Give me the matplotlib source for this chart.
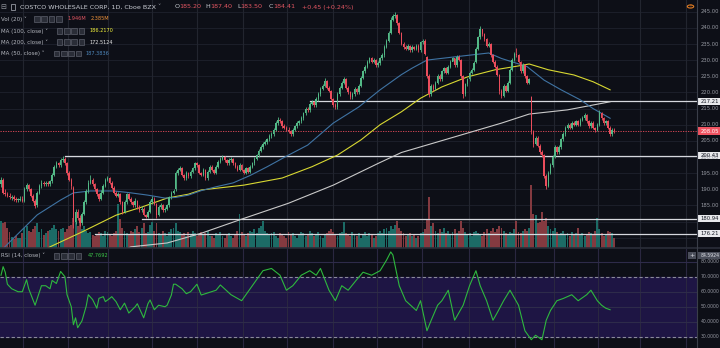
import numpy as np
import matplotlib.pyplot as plt
from matplotlib.patches import Rectangle, Circle

W, H = 720, 348

# ---- daily candles (price) ----
close = [193.0, 189.0, 188.5, 188.0, 187.5, 187.5, 187.0, 186.8, 186.7, 187.0,
         186.5, 190.0, 191.4, 190.0, 188.0, 186.5, 184.8, 189.0, 191.0, 192.0,
         191.5, 192.0, 191.5, 192.5, 194.5, 197.0, 198.0, 197.5, 199.0, 199.5,
         198.0, 195.0, 193.0, 191.0, 180.0, 183.0, 181.0, 179.5, 182.5, 186.0,
         189.5, 192.0, 193.0, 191.5, 190.0, 188.5, 187.0, 189.0, 191.0, 193.0,
         193.5, 192.0, 190.5, 189.0, 188.0, 188.5, 186.0, 183.0, 186.0, 188.5,
         187.0, 186.0, 185.0, 186.5, 184.5, 183.5, 184.0, 182.0, 181.5, 183.0,
         186.0, 187.0, 185.5, 182.0, 184.5, 185.0, 183.5, 184.0, 185.0, 187.5,
         189.0, 189.5, 195.0, 196.0, 196.5, 194.5, 193.5, 195.0, 194.0, 195.5,
         196.5, 198.0, 197.5, 195.0, 194.5, 196.0, 193.5, 195.5, 197.0, 196.0,
         195.0, 197.0, 198.5, 199.5, 200.0, 199.0, 198.0, 199.0, 199.5, 198.0,
         197.0, 196.0, 197.5, 196.0, 195.0, 196.5, 195.5, 197.0, 198.0, 199.5,
         200.5, 202.0, 203.0, 204.0, 204.5, 205.5, 206.5, 207.0, 208.5, 210.5,
         211.5, 211.0, 209.5, 209.0, 208.5, 208.0, 207.0, 208.5, 209.5, 210.5,
         211.0, 212.0, 213.5, 215.0, 214.5, 216.5, 217.0, 216.0, 218.0, 219.5,
         221.0, 222.0, 223.5, 221.5, 220.5, 218.0, 216.0, 215.5, 219.5, 221.5,
         223.0, 224.0, 221.5, 220.0, 218.5, 219.5, 221.0, 220.0, 222.0, 224.5,
         226.5, 228.0, 229.5, 230.5, 229.5, 230.0, 228.5, 229.0, 230.5, 231.5,
         234.0, 236.0, 238.5, 242.5, 243.5, 244.0, 241.5, 238.5, 235.0, 234.0,
         233.5, 234.5, 233.0, 234.0, 233.5, 234.5, 233.0, 235.5, 236.0, 232.0,
         225.0, 219.5, 222.0, 221.0, 223.0, 225.0, 224.0, 226.5, 227.5, 226.0,
         228.0, 229.5, 230.5, 228.5, 231.0, 230.0, 225.0, 219.5, 222.5, 224.0,
         226.0, 227.0, 229.0, 233.5, 237.0, 239.5, 238.0, 236.5, 234.5, 235.0,
         231.5, 229.5, 228.0, 225.5, 220.5, 219.0, 222.0, 220.5, 223.0, 227.0,
         230.0, 232.0, 231.5, 229.5, 226.5, 228.5, 225.0, 223.0, 224.0, 208.0,
         204.0, 206.0, 203.5, 201.5, 200.5, 194.0, 191.0, 195.0, 197.5, 200.0,
         203.0, 201.5, 203.0, 205.5, 207.0, 209.0, 210.0, 209.0, 210.5, 210.0,
         211.0, 210.0, 211.5, 212.0, 213.0, 211.0, 209.5, 210.5, 209.0, 208.5,
         210.0, 213.5, 212.0, 210.5, 211.0, 209.0, 207.0, 208.5, 208.0]

opens = [191.5, 193.0, 189.0, 188.5, 188.0, 187.3, 187.5, 187.0, 186.6, 186.7,
         187.0, 186.5, 190.0, 191.4, 190.0, 188.0, 186.5, 185.0, 189.0, 191.0,
         192.0, 191.5, 192.0, 191.5, 192.5, 194.5, 197.0, 198.0, 197.5, 199.0,
         199.5, 198.0, 195.0, 193.0, 190.5, 180.0, 183.0, 181.0, 179.5, 182.5,
         186.0, 189.5, 192.0, 193.0, 191.5, 190.0, 188.5, 187.0, 189.0, 191.0,
         193.0, 193.5, 192.0, 190.5, 189.0, 188.0, 188.5, 186.0, 183.0, 186.0,
         188.5, 187.0, 186.0, 185.0, 186.5, 184.5, 183.5, 184.0, 182.0, 181.5,
         183.0, 186.0, 187.0, 185.5, 182.0, 184.5, 185.0, 183.5, 184.0, 185.0,
         187.5, 189.0, 190.0, 195.0, 196.0, 196.5, 194.5, 193.5, 195.0, 194.0,
         195.5, 196.5, 198.0, 197.5, 195.0, 194.5, 196.0, 193.5, 195.5, 197.0,
         196.0, 195.0, 197.0, 198.5, 199.5, 200.0, 199.0, 198.0, 199.0, 199.5,
         198.0, 197.0, 196.0, 197.5, 196.0, 195.0, 196.5, 195.5, 197.0, 198.0,
         199.5, 200.5, 202.0, 203.0, 204.0, 204.5, 205.5, 206.5, 207.0, 208.5,
         210.5, 211.5, 211.0, 209.5, 209.0, 208.5, 208.0, 207.0, 208.5, 209.5,
         210.5, 211.0, 212.0, 213.5, 215.0, 214.5, 216.5, 217.0, 216.0, 218.0,
         219.5, 221.0, 222.0, 223.5, 221.5, 220.5, 218.0, 216.0, 215.5, 219.5,
         221.5, 223.0, 224.0, 221.5, 220.0, 218.5, 219.5, 221.0, 220.0, 222.0,
         224.5, 226.5, 228.0, 229.5, 230.5, 229.5, 230.0, 228.5, 229.0, 230.5,
         231.5, 234.0, 236.0, 238.5, 242.5, 243.5, 244.0, 241.5, 238.5, 235.0,
         234.0, 233.5, 234.5, 233.0, 234.0, 233.5, 234.5, 233.0, 235.5, 236.0,
         231.0, 225.0, 219.5, 222.0, 221.0, 223.0, 225.0, 224.0, 226.5, 227.5,
         226.0, 228.0, 229.5, 230.5, 228.5, 231.0, 230.0, 225.0, 219.5, 222.5,
         224.0, 226.0, 227.0, 229.5, 233.5, 237.0, 239.5, 238.0, 236.5, 234.5,
         235.0, 231.5, 229.5, 228.0, 225.5, 220.5, 219.0, 222.0, 220.5, 223.0,
         227.0, 230.0, 232.0, 231.5, 229.5, 226.5, 228.5, 225.0, 223.0, 218.5,
         208.0, 204.0, 206.0, 203.5, 201.5, 200.5, 194.0, 191.0, 195.0, 197.5,
         200.0, 203.0, 201.5, 203.0, 205.5, 207.0, 209.0, 210.0, 209.0, 210.5,
         210.0, 211.0, 210.0, 211.5, 212.0, 213.0, 211.0, 209.5, 210.5, 209.0,
         208.5, 210.0, 213.5, 212.0, 210.5, 211.0, 209.0, 207.0, 208.5]

high = [193.8, 193.5, 190.0, 189.3, 188.8, 188.3, 188.2, 187.6, 187.4, 187.8,
        187.8, 190.6, 192.0, 191.8, 190.5, 188.6, 187.0, 189.5, 191.6, 192.8,
        192.6, 192.7, 192.6, 193.0, 195.0, 197.6, 198.8, 198.6, 199.6, 200.2,
        199.9, 198.5, 195.8, 193.5, 191.0, 183.8, 184.0, 182.0, 183.0, 186.8,
        190.0, 192.8, 194.4, 193.5, 192.0, 190.5, 189.0, 189.8, 191.6, 193.5,
        194.2, 193.8, 192.5, 191.0, 189.6, 189.2, 189.0, 186.5, 186.8, 189.0,
        189.0, 187.6, 186.5, 187.2, 186.8, 185.0, 184.8, 184.5, 182.5, 183.6,
        186.6, 187.8, 187.5, 185.8, 185.0, 185.7, 185.4, 184.6, 185.6, 188.0,
        189.6, 190.2, 195.6, 196.6, 197.2, 196.8, 194.8, 195.6, 195.3, 196.0,
        197.0, 198.6, 198.5, 197.8, 195.5, 196.6, 196.3, 196.0, 197.6, 197.5,
        196.4, 197.6, 199.0, 200.0, 200.6, 200.3, 199.4, 199.6, 200.0, 199.8,
        198.5, 197.4, 198.0, 197.8, 196.4, 197.0, 196.8, 197.5, 198.6, 200.0,
        201.0, 202.6, 203.6, 204.5, 205.2, 206.0, 207.0, 207.6, 209.0, 211.2,
        212.4, 212.0, 211.4, 210.2, 209.6, 209.2, 208.4, 209.0, 210.0, 211.0,
        211.6, 212.6, 214.0, 215.6, 215.6, 217.0, 217.8, 217.4, 218.6, 220.2,
        221.6, 222.6, 224.4, 223.8, 222.0, 220.8, 218.4, 216.8, 220.0, 222.0,
        223.6, 224.8, 224.4, 222.0, 220.4, 220.0, 221.6, 221.4, 222.6, 225.0,
        227.0, 228.6, 230.0, 231.0, 231.0, 230.6, 230.4, 229.6, 231.0, 232.2,
        234.6, 236.6, 239.0, 243.2, 244.2, 245.0, 244.4, 241.8, 238.8, 235.6,
        234.6, 235.0, 234.8, 234.6, 234.5, 235.0, 235.0, 236.0, 236.6, 236.4,
        231.4, 225.6, 222.6, 222.6, 223.6, 225.6, 225.6, 227.0, 228.0, 227.8,
        228.6, 230.0, 231.0, 230.8, 231.6, 231.6, 230.4, 225.4, 223.0, 224.6,
        226.6, 227.6, 229.6, 234.0, 237.6, 240.6, 239.6, 238.4, 236.8, 235.6,
        235.4, 232.0, 230.0, 228.6, 225.8, 221.0, 222.6, 222.4, 223.6, 227.6,
        230.6, 232.6, 233.8, 231.8, 229.8, 229.0, 228.8, 225.4, 224.6, 218.8,
        208.4, 206.6, 206.4, 204.0, 202.2, 201.0, 194.6, 195.6, 198.0, 200.6,
        203.6, 203.4, 203.6, 206.0, 207.6, 209.6, 210.6, 210.4, 211.0, 211.0,
        211.6, 211.4, 212.0, 212.6, 213.6, 213.4, 211.5, 211.0, 211.0, 209.4,
        210.6, 214.5, 213.8, 212.4, 211.6, 211.4, 209.6, 209.0, 209.0]

low = [190.8, 188.6, 188.0, 187.6, 187.0, 186.8, 186.5, 186.2, 186.2, 186.3,
       186.0, 186.2, 189.6, 189.5, 187.6, 186.0, 184.2, 184.6, 188.5, 190.5,
       191.0, 191.0, 191.0, 191.0, 192.0, 194.2, 196.5, 197.0, 197.0, 198.6,
       197.5, 194.5, 192.5, 190.2, 178.0, 179.2, 180.4, 178.6, 179.0, 182.0,
       185.5, 189.0, 191.5, 191.0, 189.6, 188.0, 186.4, 186.6, 188.6, 190.6,
       192.6, 191.6, 190.0, 188.6, 187.6, 187.6, 185.6, 182.4, 182.6, 185.6,
       186.6, 185.6, 184.4, 184.6, 184.0, 183.0, 183.0, 181.6, 181.0, 181.0,
       182.6, 185.6, 185.0, 181.0, 181.6, 184.0, 183.0, 183.0, 183.6, 184.6,
       187.0, 188.6, 189.6, 194.5, 195.6, 194.0, 193.0, 193.0, 193.6, 193.6,
       195.0, 196.0, 197.0, 194.6, 194.0, 194.0, 193.0, 193.0, 195.0, 195.6,
       194.6, 194.6, 196.6, 198.0, 199.0, 198.6, 197.6, 197.6, 198.6, 197.6,
       196.6, 195.6, 195.6, 195.6, 194.6, 194.6, 195.0, 195.0, 196.6, 197.6,
       199.0, 200.0, 201.6, 202.6, 203.6, 204.0, 205.0, 206.0, 206.6, 208.0,
       210.0, 210.4, 209.0, 208.6, 208.0, 207.4, 206.4, 206.6, 208.0, 209.0,
       210.0, 210.6, 211.6, 213.0, 213.8, 214.0, 216.0, 215.4, 215.6, 217.4,
       219.0, 220.6, 221.6, 221.0, 220.0, 217.6, 215.4, 215.0, 215.0, 219.0,
       221.0, 222.6, 221.0, 219.4, 218.0, 218.0, 219.0, 219.6, 219.6, 221.6,
       224.0, 226.0, 227.6, 229.0, 229.0, 229.0, 228.0, 228.0, 228.6, 230.0,
       231.0, 233.6, 235.6, 238.0, 242.0, 243.0, 241.0, 238.0, 234.6, 233.4,
       233.0, 233.0, 232.6, 232.6, 233.0, 233.0, 232.6, 232.6, 235.0, 231.6,
       224.4, 218.6, 219.0, 220.4, 220.6, 222.6, 223.4, 223.6, 226.0, 225.6,
       225.6, 227.6, 229.6, 228.0, 228.0, 229.6, 224.6, 218.2, 219.0, 222.0,
       223.6, 225.6, 226.6, 229.0, 233.0, 236.6, 237.6, 235.8, 234.0, 234.0,
       231.0, 229.0, 227.4, 225.0, 219.6, 218.2, 218.6, 220.0, 220.0, 222.6,
       226.6, 229.6, 231.0, 229.0, 226.0, 226.0, 224.6, 222.6, 222.6, 207.0,
       203.0, 203.6, 203.0, 201.0, 200.0, 193.6, 190.0, 190.6, 194.6, 197.0,
       199.6, 201.0, 201.0, 202.6, 205.0, 206.6, 208.6, 208.6, 208.6, 209.6,
       209.6, 209.6, 209.6, 211.0, 211.6, 210.6, 209.0, 209.0, 208.6, 207.8,
       208.0, 209.6, 211.4, 210.0, 210.0, 208.6, 206.4, 206.4, 207.4]

# volume in millions of shares
volume = [3.8, 3.4, 3.6, 2.8, 2.2, 1.5, 1.2, 1.6, 1.3, 1.4,
          2.0, 2.8, 3.0, 2.4, 2.2, 2.6, 3.0, 3.4, 2.2, 2.6,
          1.8, 2.0, 2.4, 2.5, 2.8, 3.2, 2.6, 2.4, 2.6, 2.8,
          2.2, 2.6, 3.0, 3.2, 4.2, 3.6, 3.0, 4.0,
          2.6, 3.0, 2.4, 2.0, 2.2, 1.8, 1.6, 1.8, 2.2, 2.0, 1.6, 2.4, 2.2, 1.8, 1.6, 2.0,
          2.4, 6.2, 4.0,
          2.8, 2.4, 2.0, 1.8, 2.4, 2.2, 2.6, 3.0, 2.2, 2.8, 3.4, 2.0, 2.2, 3.2,
          3.6, 2.4, 3.4, 2.0, 1.8, 2.4, 2.0, 1.6, 2.2, 2.6, 2.8, 3.4,
          2.4, 2.2, 1.8, 2.0, 1.6, 2.2, 1.8, 2.4, 2.0, 1.6, 1.8, 2.2, 1.8, 2.0, 2.4, 1.6,
          1.6, 1.4, 2.0, 1.8, 2.2, 1.6, 1.4, 1.8, 2.0, 1.6, 1.4, 1.8, 2.4, 4.8,
          2.2, 1.8, 1.6, 2.0, 2.4, 2.2, 2.6, 2.0, 2.8, 3.0, 3.8, 2.4, 2.0,
          1.8, 2.0, 2.2, 1.6, 1.4, 2.0, 1.8, 1.6, 1.4, 2.2, 1.8, 2.0, 1.6, 1.4, 1.8,
          2.2, 2.0, 1.6, 1.8, 2.4, 2.0, 1.6, 1.8, 2.2, 1.6,
          1.4, 1.8, 2.0, 2.4, 2.6, 2.2, 1.8, 1.6, 2.0, 2.2, 3.6, 2.0, 1.8, 1.6, 2.2,
          1.8, 1.6, 2.0, 1.4, 1.8, 2.2, 1.6, 2.0, 1.8, 1.4,
          1.6, 2.0, 2.4, 2.0, 2.6, 2.8, 2.4, 3.0, 2.6, 3.2,
          3.8, 2.8, 2.4, 2.0, 1.6, 1.8, 2.0, 1.6, 1.8, 1.4, 1.6, 2.0, 2.2, 2.6,
          4.0, 7.2, 3.0, 3.4, 2.4, 2.0, 2.6, 2.2, 2.8, 2.0, 2.4, 1.8, 2.2, 2.6, 2.0,
          2.4, 3.8, 2.8,
          2.2, 1.8, 2.0, 1.6, 2.2, 2.4, 2.0, 1.8, 1.6, 2.2,
          2.6, 2.0, 2.4, 2.8, 2.2, 2.6, 3.0, 2.8, 2.4, 2.0,
          1.8, 2.2, 2.0, 2.6, 3.8, 2.2, 2.0, 2.4,
          2.6, 2.4, 2.8, 8.8, 4.8, 4.6, 3.4, 3.6, 5.0, 3.8, 4.2, 3.0, 2.6, 2.4, 2.8,
          2.2, 1.8, 2.0, 2.4, 1.8, 2.0, 1.6, 2.2, 1.8, 2.0,
          2.8, 1.8, 2.0, 1.6, 1.8, 2.2, 2.0, 1.8, 2.4, 4.2,
          2.6, 2.0, 1.6, 1.8, 2.4, 2.2, 2.0, 1.4]

# moving averages, sampled along the drawn lines (bar index, value)
ma50_bar = [0, 5, 17, 28, 34, 42, 53, 60, 69, 77, 82, 88, 94, 101, 109, 117, 125, 135,
            144, 156, 168, 178, 188, 193, 200, 213, 229, 235, 247, 255, 263, 272, 278, 286]
ma50_val = [171.0, 174.3, 182.1, 186.7, 188.9, 189.5, 189.5, 189.0, 188.2, 187.3, 187.5,
            188.2, 189.6, 190.8, 192.0, 194.3, 197.0, 200.6, 203.7, 210.5, 215.5, 220.8,
            225.5, 227.5, 230.0, 231.0, 232.2, 230.5, 228.0, 223.8, 220.8, 217.7, 215.0, 212.0]
ma100_bar = [20, 23, 38, 54, 66, 78, 88, 94, 114, 132, 146, 158, 169, 178, 188, 197, 207,
             219, 232, 243, 248, 257, 269, 278, 286]
ma100_val = [171.0, 172.2, 176.8, 182.0, 184.5, 187.3, 188.5, 189.8, 191.3, 193.5, 197.0,
             200.6, 205.3, 210.0, 214.0, 218.2, 221.7, 224.8, 227.0, 228.2, 228.8, 227.0,
             225.4, 223.3, 220.8]
ma200_bar = [56, 61, 78, 94, 114, 135, 156, 177, 188, 203, 219, 235, 248, 266, 286]
ma200_val = [170.8, 172.2, 173.4, 176.4, 181.0, 185.7, 191.3, 198.0, 201.4, 204.3, 207.4,
             210.5, 213.3, 214.6, 217.1]

# RSI(14), sampled along the line (bar index, value)
rsi_bar = [0, 1, 2, 3, 5, 8, 10, 12, 13, 16, 19, 21, 23, 24, 26, 28, 30, 31, 33, 34,
           35, 36, 38, 40, 41, 43, 45, 46, 48, 49, 51, 52, 54, 56, 58, 60, 63, 64, 67,
           69, 70, 72, 74, 77, 78, 80, 81, 82, 85, 87, 89, 92, 94, 101, 103, 108, 113,
           116, 120, 123, 127, 131, 134, 137, 141, 145, 148, 150, 154, 157, 160, 163,
           167, 170, 174, 178, 181, 183, 184, 187, 190, 195, 197, 200, 202, 205, 207,
           210, 213, 217, 220, 223, 225, 228, 231, 233, 236, 239, 243, 246, 249, 251,
           254, 256, 258, 261, 264, 268, 271, 275, 277, 280, 282, 284, 286]
rsi_val = [71, 76.7, 73, 65, 62, 60, 60, 68, 62, 51, 64, 64, 62, 67.5, 65.5, 73.5, 70,
           58, 50, 38, 42.6, 36, 40.5, 50.4, 58, 54.8, 49, 55.6, 56.7, 53.4, 55.5, 56.7,
           53.4, 48, 52.4, 45.8, 50, 52, 42.6, 52, 54.5, 48, 51, 50, 51, 57.8, 65, 65,
           62, 58.7, 60, 65, 57.8, 61, 64.5, 58, 54, 60, 68, 74, 75.5, 71, 61, 64, 71,
           74, 71, 75.5, 61, 54, 64, 61, 68, 73, 71, 74, 81, 86.5, 84.5, 64, 54, 47.5,
           54, 34, 41, 51, 54, 61, 41, 51, 64, 74, 64, 54, 41, 46, 54, 61, 51, 34, 28,
           31, 28, 41, 47.5, 54, 55.5, 58, 54, 58, 61, 54, 51, 49, 48]

# drawn horizontal levels: (price, first bar)
level_price = [217.21, 200.43, 180.94, 176.21]
level_start = [145, 30, 66, 44]
last_price = 208.05

price_ticks = [245, 240, 235, 230, 225, 220, 215, 210, 205, 200, 195, 190, 185, 180, 175]
rsi_ticks = [80, 70, 60, 50, 40, 30]
month_bars = [10.3, 31.4, 50.2, 70.9, 92.0, 113.6, 134.3, 156.0, 176.6, 197.7, 219.7,
              241.3, 259.6, 280.3, 300.0, 321.6]

BG = "#0d0f17"
GRID = "#1b1e29"
UP, DOWN = "#53b987", "#eb4d5c"
VUP, VDN = "#1c6b66", "#843a40"

close, opens, high, low = map(np.array, (close, opens, high, low))
volume = np.array(volume)
x = np.arange(len(close))
xv = np.arange(len(volume))

fig = plt.figure(figsize=(7.2, 3.48), dpi=100)
fig.patch.set_facecolor(BG)
RW = 697 / W
XL = (-0.47, 326.8)

ax_bg = fig.add_axes([0, 1 - 247.5 / H, RW, 247.5 / H])
ax_vol = fig.add_axes([0, 1 - 247.5 / H, RW, 247.5 / H])
ax = fig.add_axes([0, 1 - 247.5 / H, RW, 247.5 / H])
ax_rsi = fig.add_axes([0, 0, RW, 99.5 / H])

for a in (ax_bg, ax_vol, ax, ax_rsi):
    a.set_xlim(*XL)
    a.set_xticks([])
    a.set_yticks([])
    for s in a.spines.values():
        s.set_visible(False)
ax_bg.set_facecolor(BG)
ax_vol.patch.set_alpha(0)
ax.patch.set_alpha(0)
ax_rsi.set_facecolor(BG)

YL = (172.0, 248.6)
ax_bg.set_ylim(*YL)
ax.set_ylim(*YL)
ax_vol.set_ylim(0, 35)
ax_rsi.set_ylim(22.5, 88.8)

# grid
for p in price_ticks:
    ax_bg.axhline(p, color=GRID, lw=0.8)
for m in month_bars:
    ax_bg.axvline(m, color="#22252f", lw=0.8)
    ax_rsi.axvline(m, color="#2a2740", lw=0.8, zorder=1)

# volume
vcol = np.where(close[:len(volume)] >= opens[:len(volume)], VUP, VDN)
ax_vol.bar(xv, volume, width=0.9, color=vcol, linewidth=0)

# levels
for lp, ls in zip(level_price, level_start):
    ax.plot([ls, XL[1]], [lp, lp], color="#d6d8de", lw=0.9, zorder=2)
ax.axhline(last_price, color=DOWN, lw=0.6, ls=(0, (1.5, 1.5)), zorder=2)

# moving averages
ax.plot(ma200_bar, ma200_val, color="#c9c9c9", lw=0.8, zorder=3)
ax.plot(ma100_bar, ma100_val, color="#d8d832", lw=0.8, zorder=3)
ax.plot(ma50_bar, ma50_val, color="#3f73a3", lw=0.8, zorder=3)

# candles
col = np.where(close >= opens, UP, DOWN)
ax.vlines(x, low, high, colors=col, lw=0.6, zorder=4)
body = np.maximum(np.abs(close - opens), 0.3)
ax.bar(x, body, bottom=np.minimum(close, opens), width=0.72, color=col,
       linewidth=0, zorder=5)

# RSI pane
ax_rsi.fill_between(XL, 30, 70, color="#1e1544", zorder=0)
for g in (80, 60, 50, 40):
    ax_rsi.axhline(g, color="#2e2b4a", lw=0.8, zorder=1)
ax_rsi.axhline(70, color="#8a8a9a", lw=0.8, ls=(0, (3, 2)), zorder=2)
ax_rsi.axhline(30, color="#8a8a9a", lw=0.8, ls=(0, (3, 2)), zorder=2)
ax_rsi.plot(rsi_bar, rsi_val, color="#2eb83e", lw=0.8, zorder=3)

# pane separator and right axis border
fig.add_artist(plt.Line2D([0, 1], [1 - 248 / H] * 2, color="#2a2e39", lw=1.2))
fig.add_artist(plt.Line2D([RW, RW], [0, 1], color="#3a3e49", lw=0.8))


def T(px, py, s, c, size=4.0, **kw):
    fig.text(px / W, 1 - py / H, s, color=c, fontsize=size, va="center", ha="left", **kw)


def ypx_price(p):
    return 11.7 + (245 - p) * 3.23


def ypx_rsi(v):
    return 276.7 + (70 - v) * 1.5


# price axis labels (180 and 175 sit under the level boxes)
for p in price_ticks:
    if p in (180, 175):
        continue
    T(700.5, ypx_price(p), f"{p:.2f}", "#9598a1", 3.8)
boxes = [(217.21, "#e8e9ec", "#131722"), (200.43, "#e8e9ec", "#131722"),
         (180.94, "#e8e9ec", "#131722"), (176.21, "#e8e9ec", "#131722"),
         (last_price, "#ef5361", "#ffffff")]
for p, fc, tc in boxes:
    yy = ypx_price(p)
    fig.add_artist(Rectangle((697.5 / W, 1 - (yy + 3.6) / H), 23 / W, 7.2 / H,
                             facecolor=fc, edgecolor="none"))
    T(700.5, yy, f"{p:.2f}", tc, 3.8)

# rsi axis labels
for v in rsi_ticks:
    T(700.5, ypx_rsi(v), f"{v:.4f}", "#9598a1", 3.3)
yy = 255.2
fig.add_artist(Rectangle((697.5 / W, 1 - (yy + 3.6) / H), 23 / W, 7.2 / H,
                         facecolor="#4a4e5a", edgecolor="none"))
T(700.5, yy, "84.5924", "#e0e2e8", 3.3)
fig.add_artist(Rectangle((688 / W, 1 - (yy + 3.6) / H), 8 / W, 7.2 / H,
                         facecolor="#4a4e5a", edgecolor="none"))
T(689.5, yy, "+", "#e0e2e8", 4.5)

# clock icon
fig.add_artist(Circle((690.5 / W, 1 - 6.5 / H), 3.2 / W, facecolor="none",
                      edgecolor="#e07b22", lw=0.8, transform=fig.transFigure))
T(689.6, 6.5, "!", "#e07b22", 3.5)

# header
T(0.5, 7, "⊟", "#9598a1", 5.0)
fig.add_artist(Rectangle((11 / W, 1 - 9.5 / H), 4 / W, 5 / H, facecolor="none",
                         edgecolor="#9598a1", lw=0.6))
T(19.5, 7, "COSTCO WHOLESALE CORP, 1D, Cboe BZX", "#c9ccd3", 4.6)
T(157.5, 6.3, "˅", "#9598a1", 4.6)
ohlc = [(175, "O", 179.3, "185.20"), (205.7, "H", 210, "187.40"),
        (237, "L", 240.7, "183.50"), (269, "C", 273.3, "184.41")]
for lx, lab, vx, val in ohlc:
    T(lx, 7, lab, "#c9ccd3", 4.6)
    T(vx, 7, val, "#e25662", 4.6)
T(301.7, 7, "+0.45 (+0.24%)", "#e25662", 4.6)


def icons(x0, yc):
    for k in range(4):
        fig.add_artist(Rectangle(((x0 + k * 7.4) / W, 1 - (yc + 2.8) / H), 5.6 / W, 5.6 / H,
                                 facecolor="#2a2d37", edgecolor="#5d606b", lw=0.5))


rows = [(19, "Vol (20) ˅", 34, [(68, "1.946M", "#e25662"), (91, "2.385M", "#f0923a")]),
        (31, "MA (100, close) ˅", 56.5, [(90, "186.2170", "#f2f23a")]),
        (42.3, "MA (200, close) ˅", 56.5, [(90, "172.5124", "#e8e8e8")]),
        (53.3, "MA (50, close) ˅", 53.5, [(86, "187.3836", "#4d86ba")]),
        (255.7, "RSI (14, close) ˅", 53.5, [(87.5, "47.7692", "#3cc64a")])]
for yc, lab, ix, vals in rows:
    T(1, yc, lab, "#b4b7bf", 4.0)
    icons(ix, yc)
    for vx, s, c in vals:
        T(vx, yc, s, c, 3.6)

fig.savefig("out.png", dpi=100, facecolor=BG)
